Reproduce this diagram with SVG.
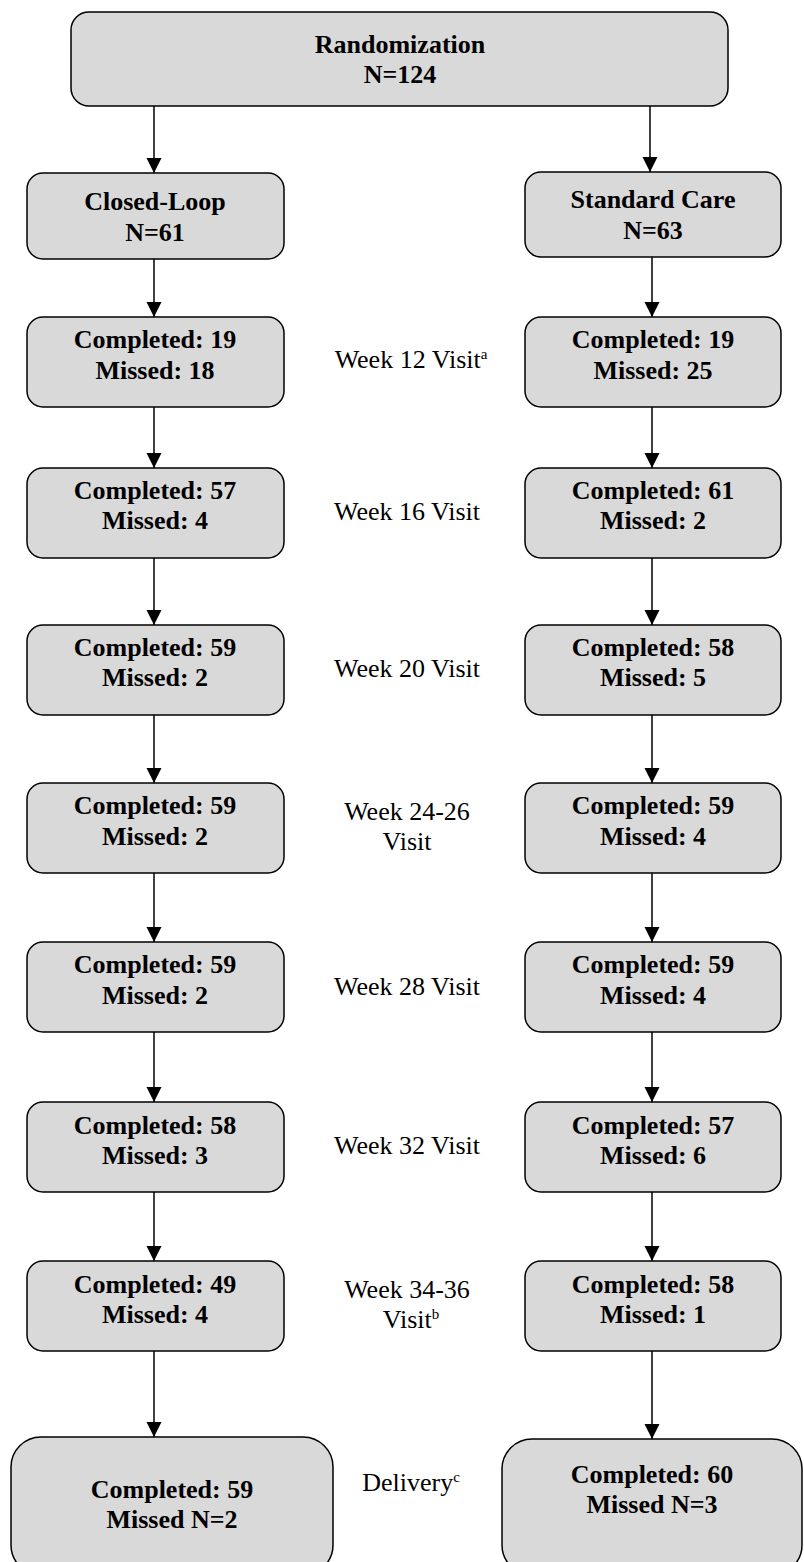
<svg xmlns="http://www.w3.org/2000/svg" width="804" height="1562" viewBox="0 0 804 1562">
  <style>
    .box { fill: #d9d9d9; stroke: #000; stroke-width: 1.5; }
    .bt { font-family: "Liberation Serif", "Times New Roman", serif; font-weight: bold; font-size: 26px; text-anchor: middle; fill: #000; }
    .lbl { font-family: "Liberation Serif", "Times New Roman", serif; font-size: 26px; text-anchor: middle; fill: #000; }
    .sup { font-size: 15px; }
    .edge { stroke: #000; stroke-width: 1.5; fill: none; marker-end: url(#arrow); }
  </style>
  <defs>
    <marker id="arrow" markerUnits="userSpaceOnUse" markerWidth="16" markerHeight="16" refX="15" refY="7.5" orient="auto">
      <path d="M0,0 L15,7.5 L0,15 z" fill="#000"/>
    </marker>
  </defs>

  <!-- connectors -->
  <g id="connectors">
    <line class="edge" x1="154" y1="106" x2="154" y2="173"/>
    <line class="edge" x1="650" y1="106" x2="650" y2="172"/>
    <line class="edge" x1="154" y1="259" x2="154" y2="317"/>
    <line class="edge" x1="652" y1="257" x2="652" y2="317"/>
    <line class="edge" x1="154" y1="407" x2="154" y2="468"/>
    <line class="edge" x1="652" y1="407" x2="652" y2="468"/>
    <line class="edge" x1="154" y1="558" x2="154" y2="625"/>
    <line class="edge" x1="652" y1="558" x2="652" y2="625"/>
    <line class="edge" x1="154" y1="715" x2="154" y2="783"/>
    <line class="edge" x1="652" y1="715" x2="652" y2="783"/>
    <line class="edge" x1="154" y1="873" x2="154" y2="942"/>
    <line class="edge" x1="652" y1="873" x2="652" y2="942"/>
    <line class="edge" x1="154" y1="1032" x2="154" y2="1102"/>
    <line class="edge" x1="652" y1="1032" x2="652" y2="1102"/>
    <line class="edge" x1="154" y1="1192" x2="154" y2="1261"/>
    <line class="edge" x1="652" y1="1192" x2="652" y2="1261"/>
    <line class="edge" x1="154" y1="1351" x2="154" y2="1437"/>
    <line class="edge" x1="652" y1="1351" x2="652" y2="1439"/>
  </g>

  <!-- top node -->
  <g id="randomization">
    <rect class="box" x="71" y="12" width="657" height="94" rx="18"/>
    <text class="bt" x="400" y="53">Randomization</text>
    <text class="bt" x="400" y="83">N=124</text>
  </g>

  <!-- arms -->
  <g id="closed-loop">
    <rect class="box" x="27" y="173" width="257" height="86" rx="16"/>
    <text class="bt" x="155" y="210">Closed-Loop</text>
    <text class="bt" x="155" y="241">N=61</text>
  </g>
  <g id="standard-care">
    <rect class="box" x="525" y="172" width="256" height="85" rx="16"/>
    <text class="bt" x="653" y="208">Standard Care</text>
    <text class="bt" x="653" y="239">N=63</text>
  </g>

  <!-- week 12 -->
  <g id="cl-w12">
    <rect class="box" x="27" y="317" width="257" height="90" rx="16"/>
    <text class="bt" x="155" y="348">Completed: 19</text>
    <text class="bt" x="155" y="379">Missed: 18</text>
  </g>
  <g id="sc-w12">
    <rect class="box" x="525" y="317" width="256" height="90" rx="16"/>
    <text class="bt" x="653" y="348">Completed: 19</text>
    <text class="bt" x="653" y="379">Missed: 25</text>
  </g>
  <g id="label-w12">
    <text class="lbl" x="411" y="368">Week 12 Visit<tspan class="sup" dy="-9">a</tspan></text>
  </g>

  <!-- week 16 -->
  <g id="cl-w16">
    <rect class="box" x="27" y="468" width="257" height="90" rx="16"/>
    <text class="bt" x="155" y="499">Completed: 57</text>
    <text class="bt" x="155" y="529">Missed: 4</text>
  </g>
  <g id="sc-w16">
    <rect class="box" x="525" y="468" width="256" height="90" rx="16"/>
    <text class="bt" x="653" y="499">Completed: 61</text>
    <text class="bt" x="653" y="529">Missed: 2</text>
  </g>
  <g id="label-w16">
    <text class="lbl" x="407" y="520">Week 16 Visit</text>
  </g>

  <!-- week 20 -->
  <g id="cl-w20">
    <rect class="box" x="27" y="625" width="257" height="90" rx="16"/>
    <text class="bt" x="155" y="656">Completed: 59</text>
    <text class="bt" x="155" y="686">Missed: 2</text>
  </g>
  <g id="sc-w20">
    <rect class="box" x="525" y="625" width="256" height="90" rx="16"/>
    <text class="bt" x="653" y="656">Completed: 58</text>
    <text class="bt" x="653" y="686">Missed: 5</text>
  </g>
  <g id="label-w20">
    <text class="lbl" x="407" y="677">Week 20 Visit</text>
  </g>

  <!-- week 24-26 -->
  <g id="cl-w24">
    <rect class="box" x="27" y="783" width="257" height="90" rx="16"/>
    <text class="bt" x="155" y="814">Completed: 59</text>
    <text class="bt" x="155" y="845">Missed: 2</text>
  </g>
  <g id="sc-w24">
    <rect class="box" x="525" y="783" width="256" height="90" rx="16"/>
    <text class="bt" x="653" y="814">Completed: 59</text>
    <text class="bt" x="653" y="845">Missed: 4</text>
  </g>
  <g id="label-w24">
    <text class="lbl" x="407" y="820">Week 24-26</text>
    <text class="lbl" x="407" y="850">Visit</text>
  </g>

  <!-- week 28 -->
  <g id="cl-w28">
    <rect class="box" x="27" y="942" width="257" height="90" rx="16"/>
    <text class="bt" x="155" y="973">Completed: 59</text>
    <text class="bt" x="155" y="1004">Missed: 2</text>
  </g>
  <g id="sc-w28">
    <rect class="box" x="525" y="942" width="256" height="90" rx="16"/>
    <text class="bt" x="653" y="973">Completed: 59</text>
    <text class="bt" x="653" y="1004">Missed: 4</text>
  </g>
  <g id="label-w28">
    <text class="lbl" x="407" y="995">Week 28 Visit</text>
  </g>

  <!-- week 32 -->
  <g id="cl-w32">
    <rect class="box" x="27" y="1102" width="257" height="90" rx="16"/>
    <text class="bt" x="155" y="1134">Completed: 58</text>
    <text class="bt" x="155" y="1164">Missed: 3</text>
  </g>
  <g id="sc-w32">
    <rect class="box" x="525" y="1102" width="256" height="90" rx="16"/>
    <text class="bt" x="653" y="1134">Completed: 57</text>
    <text class="bt" x="653" y="1164">Missed: 6</text>
  </g>
  <g id="label-w32">
    <text class="lbl" x="407" y="1154">Week 32 Visit</text>
  </g>

  <!-- week 34-36 -->
  <g id="cl-w34">
    <rect class="box" x="27" y="1261" width="257" height="90" rx="16"/>
    <text class="bt" x="155" y="1293">Completed: 49</text>
    <text class="bt" x="155" y="1323">Missed: 4</text>
  </g>
  <g id="sc-w34">
    <rect class="box" x="525" y="1261" width="256" height="90" rx="16"/>
    <text class="bt" x="653" y="1293">Completed: 58</text>
    <text class="bt" x="653" y="1323">Missed: 1</text>
  </g>
  <g id="label-w34">
    <text class="lbl" x="407" y="1298">Week 34-36</text>
    <text class="lbl" x="411" y="1328">Visit<tspan class="sup" dy="-9">b</tspan></text>
  </g>

  <!-- delivery -->
  <g id="cl-delivery">
    <rect class="box" x="11" y="1437" width="322" height="138" rx="30"/>
    <text class="bt" x="172" y="1498">Completed: 59</text>
    <text class="bt" x="172" y="1528">Missed N=2</text>
  </g>
  <g id="sc-delivery">
    <rect class="box" x="502" y="1439" width="300" height="136" rx="30"/>
    <text class="bt" x="652" y="1483">Completed: 60</text>
    <text class="bt" x="652" y="1513">Missed N=3</text>
  </g>
  <g id="label-delivery">
    <text class="lbl" x="411" y="1491">Delivery<tspan class="sup" dy="-9">c</tspan></text>
  </g>
</svg>
